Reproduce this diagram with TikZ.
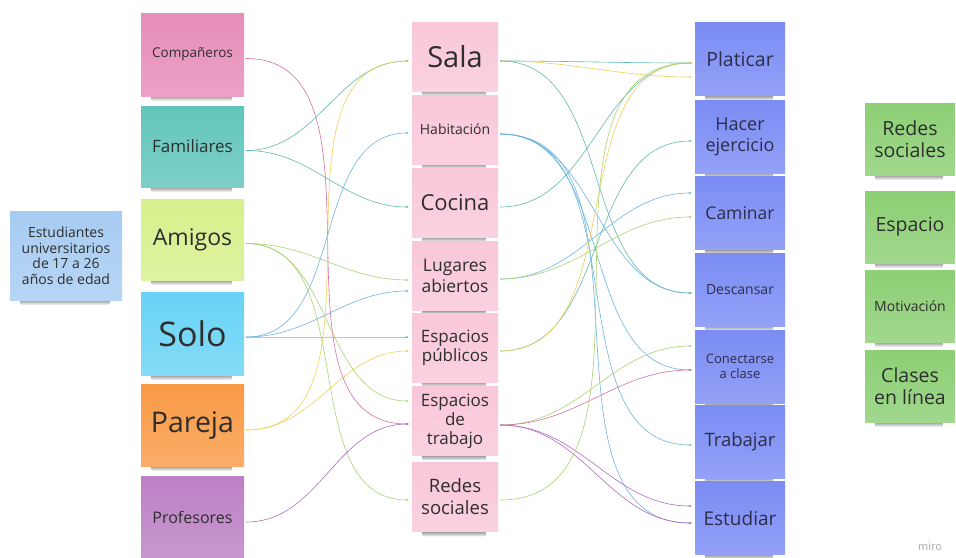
\documentclass[tikz,border=0pt]{standalone}
\usepackage{fontspec}
\setmainfont{Open Sans}
\usetikzlibrary{arrows.meta}
\pgfdeclarelayer{bg}
\pgfsetlayers{bg,main}
\definecolor{estC}{HTML}{A7CCF2}
\definecolor{compC}{HTML}{E78DB9}
\definecolor{famC}{HTML}{62C5BC}
\definecolor{amiC}{HTML}{D6F08C}
\definecolor{soloC}{HTML}{69D3F5}
\definecolor{parC}{HTML}{F99A46}
\definecolor{profC}{HTML}{BC80C5}
\definecolor{pinkC}{HTML}{F9C7DA}
\definecolor{actC}{HTML}{7B8CF4}
\definecolor{grC}{HTML}{8CCF74}
\definecolor{txt}{HTML}{2E2E2E}
\definecolor{txtB}{HTML}{2A2E4A}
\definecolor{lTeal}{HTML}{5DB9AE}
\definecolor{lBlue}{HTML}{6DB4E0}
\definecolor{lYel}{HTML}{EFCF55}
\definecolor{lGreen}{HTML}{A8D36E}
\definecolor{lPink}{HTML}{D46FA8}
\definecolor{lPurp}{HTML}{B06BC0}
\tikzset{
  note/.style={rectangle, inner sep=0pt, align=center, text=txt},
  notefill/.style={top color=#1, bottom color=#1!82!white},
  colA/.style={note, minimum width=103pt, minimum height=82pt},
  colB/.style={note, notefill=pinkC, minimum width=86pt, minimum height=69pt, text=txt},
  colC/.style={note, notefill=actC, minimum width=90pt, minimum height=73pt, text=txtB},
  colD/.style={note, notefill=grC, minimum width=90pt, minimum height=72pt},
  fs/.style={font=\fontsize{#1}{#1}\selectfont},
  shadowstrip/.style={top color=black!55, bottom color=white, rounded corners=2.5pt, draw=none},
  conn/.style={line width=0.6pt, draw=#1, -{Stealth[length=3pt,width=2.4pt]},
    shorten >=3pt, shorten <=2pt},
}
\begin{document}
\begin{tikzpicture}[x=1pt,y=-1pt]
\useasboundingbox (0,0) rectangle (956,557);
% left box
\node[note, notefill=estC, minimum width=112pt, minimum height=89pt,
  font=\fontsize{14}{15.5}\selectfont] (est0) at (66,255.5)
  {Estudiantes\\universitarios\\de 17 a 26\\años de edad};
% column 1
\node[colA, notefill=compC, minimum height=83pt, fs=13.5] (comp) at (192.5,54.5) {Compañeros};
\node[colA, notefill=famC, minimum height=81pt, fs=17] (fam) at (192.5,146.5) {Familiares};
\node[colA, notefill=amiC, minimum height=81pt, fs=23] (ami) at (192.5,239.5) {Amigos};
\node[colA, notefill=soloC, minimum height=83pt, fs=34] (solo) at (192.5,333.5) {Solo};
\node[colA, notefill=parC, minimum height=82pt, fs=28.5] (par) at (192.5,425) {Pareja};
\node[colA, notefill=profC, minimum height=83pt, fs=16] (prof) at (192.5,517.5) {Profesores};
% column 2
\node[colB, fs=29] (sala) at (455,56.5) {Sala};
\node[colB, fs=14] (hab) at (455,129.5) {Habitación};
\node[colB, fs=22] (coc) at (455,202.5) {Cocina};
\node[colB, font=\fontsize{17.5}{21}\selectfont] (lug) at (455,276) {Lugares\\abiertos};
\node[colB, font=\fontsize{17}{19}\selectfont] (pub) at (455,347.5) {Espacios\\públicos};
\node[colB, font=\fontsize{17}{19}\selectfont] (trab) at (455,421) {Espacios\\de\\trabajo};
\node[colB, font=\fontsize{18.5}{22}\selectfont] (red) at (455,497) {Redes\\sociales};
% column 3
\node[colC, fs=19.5] (plat) at (740,59) {Platicar};
\node[colC, font=\fontsize{18}{21}\selectfont] (hacer) at (740,136.5) {Hacer\\ejercicio};
\node[colC, fs=17.5] (cam) at (740,213) {Caminar};
\node[colC, fs=14] (desc) at (740,289.5) {Descansar};
\node[colC, font=\fontsize{13}{15}\selectfont] (con) at (740,366.5) {Conectarse\\a clase};
\node[colC, fs=18.5] (trabajar) at (740,441.5) {Trabajar};
\node[colC, fs=19] (estud) at (740,518) {Estudiar};
% column 4
\node[colD, font=\fontsize{19.5}{22}\selectfont] (g1) at (910,139) {Redes\\sociales};
\node[colD, fs=19.5] (g2) at (910,227) {Espacio};
\node[colD, fs=14] (g3) at (910,306) {Motivación};
\node[colD, font=\fontsize{19.5}{22}\selectfont] (g4) at (910,386) {Clases\\en línea};
\node[text=black!35, font=\fontsize{11}{12}\selectfont] (miro) at (930,547) {miro};
% shadows below the notes
\begin{pgfonlayer}{bg}
\foreach \n in {est0,comp,fam,ami,solo,par,sala,hab,coc,lug,pub,trab,red,plat,hacer,cam,desc,con,trabajar,estud,g1,g2,g3,g4}{
  \shade[shadowstrip] ([xshift=10pt,yshift=2pt]\n.south west) rectangle ([xshift=-12pt,yshift=-5pt]\n.south east);
}
\end{pgfonlayer}
% connectors column 1 -> column 2
\draw[conn=lPink] ([yshift=-4pt]comp.east) to[out=0,in=180] ([yshift=-3pt]trab.west);
\draw[conn=lTeal] ([yshift=-4pt]fam.east) to[out=0,in=180] ([yshift=-4.5pt]sala.west);
\draw[conn=lTeal] ([yshift=-4pt]fam.east) to[out=0,in=180] ([yshift=-4.5pt]coc.west);
\draw[conn=lGreen] ([yshift=-4pt]ami.east) to[out=0,in=180] ([yshift=-4pt]lug.west);
\draw[conn=lGreen] ([yshift=-4pt]ami.east) to[out=0,in=180] ([yshift=20pt]trab.west);
\draw[conn=lGreen] ([yshift=-4pt]ami.east) to[out=0,in=180] ([yshift=-3pt]red.west);
\draw[conn=lBlue] ([yshift=-3.5pt]solo.east) to[out=0,in=180] ([yshift=-3.5pt]hab.west);
\draw[conn=lBlue] ([yshift=-3.5pt]solo.east) to[out=0,in=180] ([yshift=-15pt]lug.west);
\draw[conn=lBlue] ([yshift=-3.5pt]solo.east) to[out=0,in=180] ([yshift=10.5pt]pub.west);
\draw[conn=lYel] ([yshift=-5pt]par.east) to[out=0,in=180] ([yshift=-4.5pt]sala.west);
\draw[conn=lYel] ([yshift=-5pt]par.east) to[out=0,in=180] ([yshift=-3.5pt]pub.west);
\draw[conn=lPurp] ([yshift=-4.5pt]prof.east) to[out=0,in=180] ([yshift=-3pt]trab.west);
% connectors column 2 -> column 3
\draw[conn=lTeal] ([yshift=-4.5pt]sala.east) to[out=0,in=180] ([yshift=-4pt]plat.west);
\draw[conn=lYel] ([yshift=-4.5pt]sala.east) to[out=0,in=180] ([yshift=-18pt]plat.west);
\draw[conn=lTeal] ([yshift=-4.5pt]sala.east) to[out=0,in=180] ([yshift=-3.5pt]desc.west);
\draw[conn=lBlue] ([yshift=-4.5pt]hab.east) to[out=0,in=180] ([yshift=-3.5pt]desc.west);
\draw[conn=lBlue] ([yshift=-4.5pt]hab.east) to[out=0,in=180] ([yshift=-3.5pt]con.west);
\draw[conn=lBlue] ([yshift=-4.5pt]hab.east) to[out=0,in=180] ([yshift=-3.5pt]trabajar.west);
\draw[conn=lBlue] ([yshift=-4.5pt]hab.east) to[out=0,in=180] ([yshift=-5pt]estud.west);
\draw[conn=lTeal] ([yshift=-4.5pt]coc.east) to[out=0,in=180] ([yshift=-4pt]plat.west);
\draw[conn=lBlue] ([yshift=-3pt]lug.east) to[out=0,in=180] ([yshift=20pt]cam.west);
\draw[conn=lGreen] ([yshift=-3pt]lug.east) to[out=0,in=180] ([yshift=-4pt]cam.west);
\draw[conn=lTeal] ([yshift=-3.5pt]pub.east) to[out=0,in=180] ([yshift=-4.5pt]hacer.west);
\draw[conn=lYel] ([yshift=-3.5pt]pub.east) to[out=0,in=180] ([yshift=-4pt]plat.west);
\draw[conn=lGreen] ([yshift=-4pt]trab.east) to[out=0,in=180] ([yshift=20.5pt]con.west);
\draw[conn=lPink] ([yshift=-4pt]trab.east) to[out=0,in=180] ([yshift=-3.5pt]con.west);
\draw[conn=lPurp] ([yshift=-4pt]trab.east) to[out=0,in=180] ([yshift=12pt]estud.west);
\draw[conn=lPurp] ([yshift=-4pt]trab.east) to[out=0,in=180] ([yshift=-5pt]estud.west);
\draw[conn=lGreen] ([yshift=-3pt]red.east) to[out=0,in=180] ([yshift=-4pt]plat.west);
\end{tikzpicture}
\end{document}
